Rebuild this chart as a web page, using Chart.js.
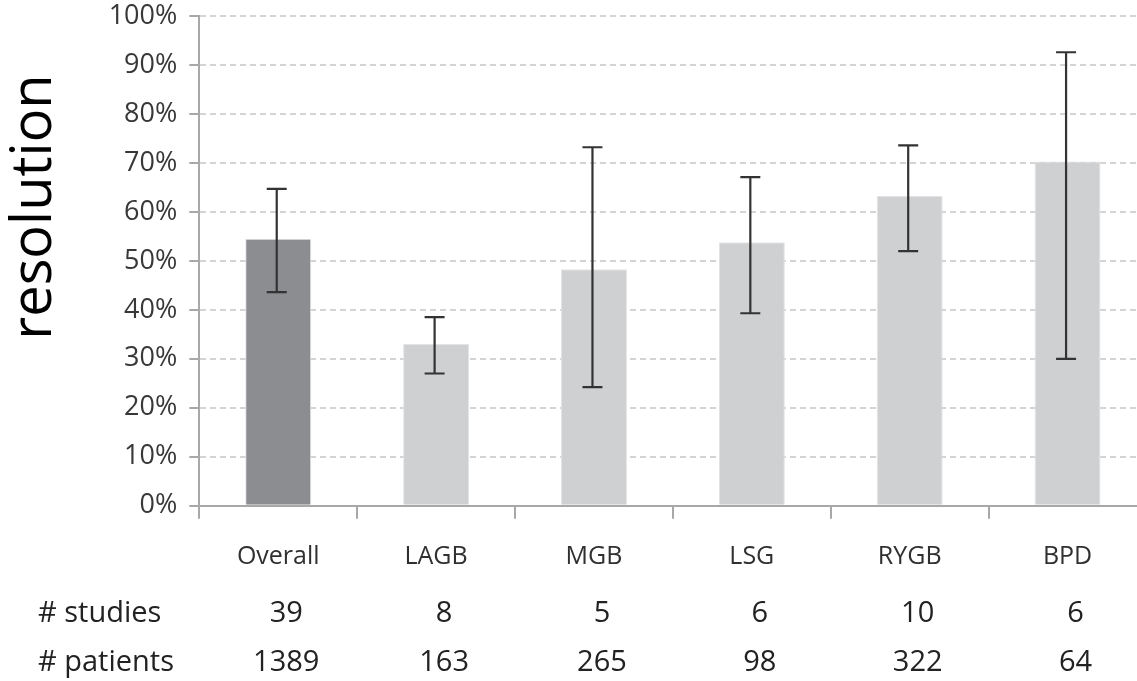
<!DOCTYPE html>
<html>
<head>
<meta charset="utf-8">
<script src="https://cdn.jsdelivr.net/npm/chart.js@4.4.1/dist/chart.umd.min.js"></script>
<style>
  html, body { margin: 0; padding: 0; background: #fff; overflow: hidden; }
  #wrap { width: 1137px; height: 681px; overflow: hidden; position: relative; }
  canvas { display: block; }
</style>
</head>
<body>
<div id="wrap"><canvas id="c" width="1160" height="681"></canvas></div>
<script>
// Procedures and pooled resolution rates (%) with 95% CI bounds
const procedures = ['Overall', 'LAGB', 'MGB', 'LSG', 'RYGB', 'BPD'];
const resolution = [54.5, 33.0, 48.3, 53.8, 63.3, 70.3];
const ciLower    = [43.6, 27.0, 24.2, 39.3, 52.0, 30.0];
const ciUpper    = [64.7, 38.5, 73.2, 67.1, 73.6, 92.6];
const studies    = ['39', '8', '5', '6', '10', '6'];
const patients   = ['1389', '163', '265', '98', '322', '64'];
const yTicks     = [0, 10, 20, 30, 40, 50, 60, 70, 80, 90, 100];

const FONT = "'Open Sans', 'DejaVu Sans', sans-serif";
const barColors = procedures.map((p, i) => i === 0 ? '#8c8d91' : '#cfd0d2');

// Error bars with caps, drawn from the CI arrays through the scales
const errorBars = {
  id: 'errorBars',
  afterDatasetsDraw(chart) {
    const { ctx, scales: { x, y } } = chart;
    ctx.save();
    ctx.strokeStyle = '#333333';
    ctx.lineWidth = 2.2;
    const cap = 10;
    procedures.forEach((p, i) => {
      const cx = x.getPixelForValue(i) - 1.5;
      const yl = y.getPixelForValue(ciLower[i]);
      const yu = y.getPixelForValue(ciUpper[i]);
      ctx.beginPath();
      ctx.moveTo(cx, yl); ctx.lineTo(cx, yu);
      ctx.moveTo(cx - cap, yu); ctx.lineTo(cx + cap, yu);
      ctx.moveTo(cx - cap, yl); ctx.lineTo(cx + cap, yl);
      ctx.stroke();
    });
    ctx.restore();
  }
};

// Axis title and the study / patient count rows under the category labels
const annotations = {
  id: 'annotations',
  afterDraw(chart) {
    const { ctx, scales: { x } } = chart;
    ctx.save();
    ctx.fillStyle = '#000';
    ctx.font = `56px ${FONT}`;
    ctx.translate(35, 207);
    ctx.rotate(-Math.PI / 2);
    ctx.textAlign = 'center';
    ctx.textBaseline = 'middle';
    ctx.fillText('resolution', 0, 0);
    ctx.restore();

    ctx.save();
    ctx.fillStyle = '#222222';
    ctx.font = `29px ${FONT}`;
    ctx.textBaseline = 'middle';
    ctx.textAlign = 'left';
    ctx.fillText('# studies', 38, 614);
    ctx.fillText('# patients', 38, 663);
    ctx.textAlign = 'center';
    procedures.forEach((p, i) => {
      const cx = x.getPixelForValue(i) + 8;
      ctx.fillText(studies[i], cx, 614);
      ctx.fillText(patients[i], cx, 663);
    });
    ctx.restore();
  }
};

new Chart(document.getElementById('c'), {
  type: 'bar',
  data: {
    labels: procedures,
    datasets: [{
      data: resolution,
      backgroundColor: barColors,
      borderColor: '#e4e4e6',
      borderWidth: 1,
      categoryPercentage: 1,
      barPercentage: 0.418
    }]
  },
  options: {
    responsive: false,
    animation: false,
    devicePixelRatio: 1,
    layout: { padding: { top: 0, right: 13.5, bottom: 0, left: 0 } },
    plugins: { legend: { display: false }, tooltip: { enabled: false } },
    scales: {
      y: {
        min: 0, max: 100,
        afterFit(s) { s.width = 199.3; s.paddingTop = 16; },
        afterBuildTicks(s) { s.ticks = yTicks.map(v => ({ value: v })); },
        ticks: {
          callback: v => v + '%',
          color: '#383838',
          font: { family: FONT, size: 27 },
          padding: 12,
          autoSkip: false
        },
        border: { color: '#a8a8a8', width: 2, dash: [6, 4] },
        grid: {
          color: c => c.tick && c.tick.value === 0 ? 'rgba(0,0,0,0)' : '#d4d4d4',
          lineWidth: 2,
          tickColor: '#a8a8a8',
          tickLength: 10,
          tickWidth: 2,
          tickBorderDash: [1, 0]
        }
      },
      x: {
        afterFit(s) { s.height = 175.3; },
        ticks: {
          color: '#303030',
          font: { family: FONT, size: 25 },
          padding: 23
        },
        border: { color: '#a8a8a8', width: 2 },
        grid: {
          offset: true,
          drawOnChartArea: false,
          color: '#a8a8a8',
          tickLength: 13,
          lineWidth: 2
        }
      }
    }
  },
  plugins: [errorBars, annotations]
});
</script>
</body>
</html>
